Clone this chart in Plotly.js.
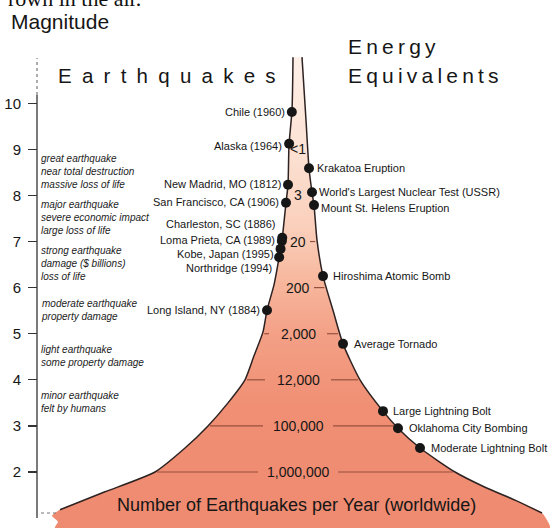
<!DOCTYPE html>
<html><head><meta charset="utf-8">
<script src="https://cdn.plot.ly/plotly-3.0.1.min.js"></script>
<style>html,body{margin:0;padding:0;background:#fff}#chart{width:550px;height:528px}</style>
</head><body><div id="chart"></div>
<script>
// ---------------- DATA ----------------
const magnitudeTicks = [2, 3, 4, 5, 6, 7, 8, 9, 10];
const magnitudeTickLabels = ['2', '3', '4', '5', '6', '7', '8', '9', '10'];

const frequencyMagnitudes = [9, 8, 7, 6, 5, 4, 3, 2];
const frequencyLabels = ['<1', '3', '20', '200', '2,000', '12,000', '100,000', '1,000,000'];

const severityBandBottom = [8, 7, 6, 5, 4, 3];
const severityTexts = [
  'great earthquake<br>near total destruction<br>massive loss of life',
  'major earthquake<br>severe economic impact<br>large loss of life',
  'strong earthquake<br>damage ($ billions)<br>loss of life',
  'moderate earthquake<br>property damage',
  'light earthquake<br>some property damage',
  'minor earthquake<br>felt by humans'
];

const quakeNames = ['Chile (1960)', 'Alaska (1964)', 'New Madrid, MO (1812)', 'San Francisco, CA (1906)',
  'Charleston, SC (1886)', 'Loma Prieta, CA (1989)', 'Kobe, Japan (1995)', 'Northridge (1994)', 'Long Island, NY (1884)'];
const quakeMagnitudes = [9.81, 9.12, 8.23, 7.84, 7.08, 7.01, 6.84, 6.66, 5.51];

const energyNames = ['Krakatoa Eruption', "World's Largest Nuclear Test (USSR)", 'Mount St. Helens Eruption',
  'Hiroshima Atomic Bomb', 'Average Tornado', 'Large Lightning Bolt', 'Oklahoma City Bombing', 'Moderate Lightning Bolt'];
const energyMagnitudes = [8.59, 8.07, 7.79, 6.25, 4.78, 3.32, 2.95, 2.52];

// outline of the frequency "funnel" (magnitude, width units)
const leftEdgeMag = [11.0, 9.85, 9.09, 8.23, 7.84, 7.03, 6.64, 6.06, 5.51, 5.04, 4.52, 4.0, 3.5, 3.0, 2.52, 2.0, 1.57, 1.18, 1.05, 0.92, 0.785];
const leftEdgeX   = [293, 292, 289, 288, 286, 282, 279, 274, 267, 263, 254, 245, 228, 208, 185, 155, 105, 60, 52, 58, 55];
const rightEdgeMag = [11.0, 9.63, 8.59, 8.07, 7.79, 7.03, 6.25, 5.51, 4.78, 4.0, 3.32, 2.95, 2.52, 2.0, 1.67, 1.39, 1.11, 0.92, 0.785];
const rightEdgeX   = [302, 306, 309, 312, 314, 317, 323, 333, 343, 360, 383, 398, 420, 455, 485, 515, 542, 548, 550];

// ---------------- LAYOUT CONSTANTS ----------------
const W = 550, H = 528;
const MAG_TOP = 12.24, MAG_BOT = 0.785;
const AXIS_X = 37;
const CENTER_X = 298;
const levelGap = {2: 40, 3: 35, 4: 33, 5: 29, 6: 16, 7: 12};
const quakeLabelYShift = [0, -2, 1, 1, 14, 1, -5, -11, 0];
const energyLabelYShift = [0, 0, -3, 0, 0, 0, 0, 0];
const energyLabelGap = [7, 6, 6, 9, 10, 9, 10, 10];

const SANS = 'Liberation Sans, Arial, Helvetica, sans-serif';
const INK = '#161616';
const EDGE = '#2e2222';
const LEVEL = '#98503e';

function py(p) { return 1 - p / H; }
function interp(ms, xs, m) {
  for (let i = 0; i < ms.length - 1; i++) {
    const a = ms[i], b = ms[i + 1];
    if ((m <= a && m >= b) || (m >= a && m <= b)) {
      const t = (m - a) / (b - a);
      return xs[i] + t * (xs[i + 1] - xs[i]);
    }
  }
  return xs[xs.length - 1];
}

// ---------------- TRACES ----------------
const fillX = leftEdgeX.concat(rightEdgeX.slice().reverse());
const fillY = leftEdgeMag.concat(rightEdgeMag.slice().reverse());
const traces = [];
traces.push({
  x: fillX, y: fillY, mode: 'lines', fill: 'toself', line: {width: 0, shape: 'spline', smoothing: 0.6},
  fillgradient: {type: 'vertical', colorscale: [
    [0, '#ee8a70'], [0.27, '#f08f74'], [0.42, '#f3a086'], [0.53, '#f7b79d'],
    [0.65, '#fad0bc'], [0.82, '#fce3d5'], [1, '#fef0e8']]},
  hoverinfo: 'skip', showlegend: false
});
const lIdx = leftEdgeMag.map((m, i) => i).filter(i => leftEdgeMag[i] >= 1.15);
const rIdx = rightEdgeMag.map((m, i) => i).filter(i => rightEdgeMag[i] >= 1.1);
traces.push({x: lIdx.map(i => leftEdgeX[i]), y: lIdx.map(i => leftEdgeMag[i]), mode: 'lines',
  line: {color: EDGE, width: 1.5, shape: 'spline', smoothing: 0.6}, hoverinfo: 'skip'});
traces.push({x: rIdx.map(i => rightEdgeX[i]), y: rIdx.map(i => rightEdgeMag[i]), mode: 'lines',
  line: {color: EDGE, width: 1.5, shape: 'spline', smoothing: 0.6}, hoverinfo: 'skip'});

// level lines inside funnel
const lvX = [], lvY = [];
frequencyMagnitudes.forEach(m => {
  const g = levelGap[m];
  if (g === undefined) return;
  const le = interp(leftEdgeMag, leftEdgeX, m), re = interp(rightEdgeMag, rightEdgeX, m);
  if (m <= 5) { lvX.push(le + 2, CENTER_X - g, null); lvY.push(m, m, null); }
  lvX.push(CENTER_X + g, re - 2, null); lvY.push(m, m, null);
});
traces.push({x: lvX, y: lvY, mode: 'lines', line: {color: LEVEL, width: 1.2}, hoverinfo: 'skip', connectgaps: false});

// magnitude axis line (solid part, dotted continuation)
traces.push({x: [AXIS_X, AXIS_X], y: [1.0, 10.18], mode: 'lines', line: {color: '#333', width: 1.3}, hoverinfo: 'skip'});
traces.push({x: [AXIS_X, AXIS_X], y: [10.18, 10.98], mode: 'lines', line: {color: '#777', width: 1.2, dash: 'dot'}, hoverinfo: 'skip'});
traces.push({x: [41, 57], y: [1.11, 1.11], mode: 'lines', line: {color: '#777', width: 1.2, dash: 'dot'}, hoverinfo: 'skip'});

// dots
const quakeX = quakeMagnitudes.map(m => interp(leftEdgeMag, leftEdgeX, m));
const energyX = energyMagnitudes.map(m => interp(rightEdgeMag, rightEdgeX, m));
traces.push({x: quakeX, y: quakeMagnitudes, mode: 'markers', marker: {size: 10, color: INK}, text: quakeNames, hoverinfo: 'text'});
traces.push({x: energyX, y: energyMagnitudes, mode: 'markers', marker: {size: 10, color: INK}, text: energyNames, hoverinfo: 'text'});

// ---------------- ANNOTATIONS ----------------
const ann = [];
quakeNames.forEach((n, i) => ann.push({x: quakeX[i] - 6, y: quakeMagnitudes[i], xref: 'x', yref: 'y', text: n,
  xanchor: 'right', yanchor: 'middle', yshift: quakeLabelYShift[i], showarrow: false, borderpad: 0,
  font: {family: SANS, size: 11, color: INK}}));
energyNames.forEach((n, i) => ann.push({x: energyX[i] + energyLabelGap[i], y: energyMagnitudes[i], xref: 'x', yref: 'y', text: n,
  xanchor: 'left', yanchor: 'middle', yshift: energyLabelYShift[i], showarrow: false, borderpad: 0,
  font: {family: SANS, size: 11, color: INK}}));
frequencyLabels.forEach((t, i) => ann.push({x: CENTER_X, y: frequencyMagnitudes[i], xref: 'x', yref: 'y', text: t,
  xanchor: 'center', yanchor: 'middle', showarrow: false, borderpad: 0, font: {family: SANS, size: 14, color: INK}}));
severityTexts.forEach((t, i) => ann.push({x: 40, y: severityBandBottom[i] + 0.5, xref: 'x', yref: 'y', text: t,
  xanchor: 'left', yanchor: 'middle', align: 'left', yshift: 1, showarrow: false, borderpad: 0,
  font: {family: SANS, size: 10, color: '#222', style: 'italic'}}));
ann.push({x: 296, y: 1.284, xref: 'x', yref: 'y', text: 'Number of Earthquakes per Year (worldwide)',
  xanchor: 'center', yanchor: 'middle', showarrow: false, font: {family: SANS, size: 18, color: INK}});
ann.push({x: 9, y: py(22), xref: 'x', yref: 'paper', text: 'Magnitude', xanchor: 'left', yanchor: 'middle',
  showarrow: false, font: {family: SANS, size: 21, color: INK}});
const sp = '\u2002';
ann.push({x: 56, y: py(76), xref: 'x', yref: 'paper', text: 'Earthquakes'.split('').join(sp), xanchor: 'left', yanchor: 'middle',
  showarrow: false, font: {family: SANS, size: 20.5, color: INK}});
const th = '\u2009';
ann.push({x: 346, y: py(47), xref: 'x', yref: 'paper', text: 'Energy'.split('').join(th), xanchor: 'left', yanchor: 'middle',
  showarrow: false, font: {family: SANS, size: 21, color: INK}});
ann.push({x: 346, y: py(75), xref: 'x', yref: 'paper', text: 'Equivalents'.split('').join(th), xanchor: 'left', yanchor: 'middle',
  showarrow: false, font: {family: SANS, size: 21, color: INK}});
ann.push({x: 6, y: py(8), xref: 'x', yref: 'paper', text: 'rown in the air.', xanchor: 'left', yanchor: 'bottom', yshift: -5,
  showarrow: false, font: {family: 'Liberation Serif, Times New Roman, serif', size: 22, color: '#111'}});

const layout = {
  width: W, height: H, margin: {l: 0, r: 0, t: 0, b: 0},
  paper_bgcolor: '#fff', plot_bgcolor: '#fff', showlegend: false,
  xaxis: {range: [0, W], visible: false, fixedrange: true},
  yaxis: {range: [MAG_BOT, MAG_TOP], anchor: 'free', position: AXIS_X / W, side: 'left',
    tickvals: magnitudeTicks, ticktext: magnitudeTickLabels, ticks: 'outside', ticklen: 9, tickwidth: 1.3,
    tickcolor: '#333', showline: false, showgrid: false, zeroline: false, automargin: false,
    ticklabelstandoff: 4, tickfont: {family: SANS, size: 15, color: INK}, fixedrange: true},
  yaxis2: {range: [MAG_BOT, MAG_TOP], overlaying: 'y', anchor: 'free', position: AXIS_X / W, side: 'left',
    tickvals: magnitudeTicks, ticks: 'inside', ticklen: 9, tickwidth: 1.3, tickcolor: '#333',
    showticklabels: false, showline: false, showgrid: false, zeroline: false, automargin: false, fixedrange: true},
  annotations: ann
};
Plotly.newPlot('chart', traces, layout, {staticPlot: true, displayModeBar: false});
</script></body></html>
